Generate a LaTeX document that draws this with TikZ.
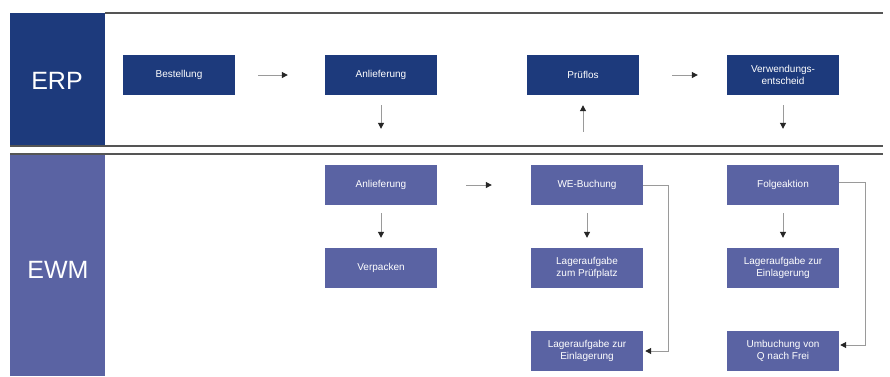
\documentclass[tikz,border=0pt]{standalone}
\usepackage{fontspec}
\setmainfont{Liberation Sans}
\usetikzlibrary{arrows.meta}
\definecolor{erpblue}{HTML}{1D3A7C}
\definecolor{ewmblue}{HTML}{5A63A3}
\definecolor{rulegray}{HTML}{555555}
\definecolor{conngray}{HTML}{9A9A9A}
\begin{document}
\begin{tikzpicture}[x=1pt,y=-1pt,
  box/.style={minimum width=112pt,minimum height=40pt,inner sep=1pt,align=center,
    text=white,font=\fontsize{10}{12.5}\selectfont},
  erpbox/.style={box,fill=erpblue},
  ewmbox/.style={box,fill=ewmblue},
  conn/.style={draw=conngray,line width=1pt,-{Triangle[length=6pt,width=6pt,color=black!85]}},
  lane/.style={inner sep=0pt,text=white,font=\fontsize{25}{28}\selectfont}
]
\useasboundingbox (0,0) rectangle (890,376);
\fill[white] (0,0) rectangle (890,376);
% lanes
\fill[erpblue] (10,13) rectangle (105,146);
\fill[ewmblue] (10,154) rectangle (105,376);
\node[lane] (erp) at (57,81) {ERP};
\node[lane] (ewm) at (58,270) {EWM};
\draw[rulegray,line width=1.3pt] (105,13) -- (883,13);
\draw[rulegray,line width=1.3pt] (10,146) -- (883,146);
\draw[rulegray,line width=1.3pt] (10,154) -- (883,154);
% ERP nodes
\node[erpbox] (best) at (179,75) {Bestellung};
\node[erpbox] (anlerp) at (381,75) {Anlieferung};
\node[erpbox] (pruef) at (583,75) {Prüflos};
\node[erpbox] (ve) at (783,75) {Verwendungs-\\entscheid};
% EWM nodes
\node[ewmbox] (anlewm) at (381,185) {Anlieferung};
\node[ewmbox] (verp) at (381,268) {Verpacken};
\node[ewmbox] (we) at (587,185) {WE-Buchung};
\node[ewmbox] (lagp) at (587,268) {Lageraufgabe\\zum Prüfplatz};
\node[ewmbox] (lage1) at (587,351) {Lageraufgabe zur\\Einlagerung};
\node[ewmbox] (folge) at (783,185) {Folgeaktion};
\node[ewmbox] (lage2) at (783,268) {Lageraufgabe zur\\Einlagerung};
\node[ewmbox] (umb) at (783,351) {Umbuchung von\\Q nach Frei};
% connectors
\draw[conn,shorten <=23pt,shorten >=37pt] (best) -- (anlerp);
\draw[conn,shorten <=33pt,shorten >=29pt] (pruef.east) -- (ve.west);
\draw[conn,shorten <=29pt,shorten >=39pt] (anlewm) -- (we);
\draw[conn,shorten <=10pt,shorten >=36pt] (anlerp) -- (anlewm);
\draw[conn,shorten <=33pt,shorten >=10pt] (we.north -| pruef) -- (pruef);
\draw[conn,shorten <=10pt,shorten >=36pt] (ve) -- (folge);
\draw[conn,shorten <=8pt,shorten >=10pt] (anlewm) -- (verp);
\draw[conn,shorten <=8pt,shorten >=10pt] (we) -- (lagp);
\draw[conn,shorten <=8pt,shorten >=10pt] (folge) -- (lage2);
\coordinate (c1) at (668,185);
\coordinate (c2) at (865,182);
\coordinate (c3) at (865,345);
\draw[conn] (we.east) -- (c1) |- ([xshift=2pt]lage1.east);
\draw[conn] (folge.east |- c2) -- (c2) -- (c3) -- ([xshift=1pt]umb.east |- c3);
\end{tikzpicture}
\end{document}
